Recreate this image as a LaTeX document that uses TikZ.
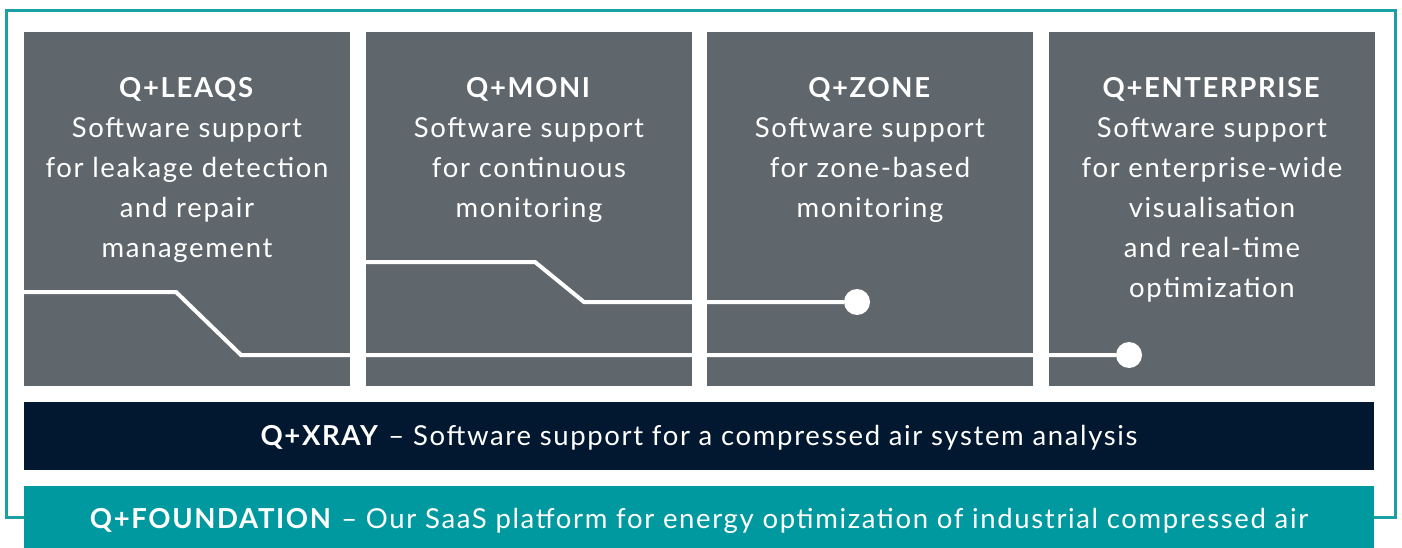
\documentclass[tikz,border=0pt]{standalone}
\usepackage{fontspec}
\setmainfont{Lato}[LetterSpace=6]
\usetikzlibrary{positioning}

\definecolor{slate}{RGB}{95,102,108}
\definecolor{navy}{RGB}{1,24,48}
\definecolor{teal}{RGB}{0,153,160}
\definecolor{frame}{RGB}{26,159,163}

\begin{document}
\begin{tikzpicture}[x=1pt,y=-1pt,
    modbox/.style={fill=slate, minimum width=326pt, minimum height=354pt, inner sep=0pt, outer sep=0pt},
    modtext/.style={anchor=north, align=center, text=white, inner sep=0pt, font=\fontsize{27.5}{40}\selectfont},
    bar/.style={minimum width=1350pt, inner sep=0pt, outer sep=0pt, text=white, font=\fontsize{27.5}{32}\selectfont},
    wire/.style={white, line width=4pt},
    dot/.style={circle, fill=white, minimum size=26pt, inner sep=0pt}]
    \useasboundingbox (0,0) rectangle (1402,548);
    % outer frame
    \draw[frame, line width=3pt] (24,517) -- (6.5,517) -- (6.5,11) -- (1395.5,11) -- (1395.5,517) -- (1374,517);
    % modules
    \node[modbox] (leaqs) at (187,209) {};
    \node[modbox] (moni) at (529,209) {};
    \node[modbox] (zone) at (870,209) {};
    \node[modbox] (enterprise) at (1212,209) {};
    \node[modtext, yshift=-45pt] (leaqstxt) at (leaqs.north) {\textbf{Q+LEAQS}\\Software support\\for leakage detection\\and repair\\management};
    \node[modtext, yshift=-45pt] (monitxt) at (moni.north) {\textbf{Q+MONI}\\Software support\\for continuous\\monitoring};
    \node[modtext, yshift=-45pt] (zonetxt) at (zone.north) {\textbf{Q+ZONE}\\Software support\\for zone-based\\monitoring};
    \node[modtext, yshift=-45pt] (enterprisetxt) at (enterprise.north) {\textbf{Q+ENTERPRISE}\\Software support\\for enterprise-wide\\visualisation\\and real-time\\optimization};
    % bars
    \node[bar, fill=navy, minimum height=68pt] (xray) at (699,436) {};
    \node[bar, fill=teal, minimum height=62pt] (foundation) at (699,517) {};
    \node[text=white, font=\fontsize{27.5}{32}\selectfont, yshift=-2pt] (xraytxt) at (xray) {\textbf{Q+XRAY} -- Software support for a compressed air system analysis};
    \node[text=white, font=\fontsize{27.5}{32}\selectfont, yshift=-4pt] (foundationtxt) at (foundation) {\textbf{Q+FOUNDATION} -- Our SaaS platform for energy optimization of industrial compressed air};
    % wires
    \node[dot] (dotzone) at (857,302) {};
    \node[dot] (dotent) at (1129,355) {};
    \coordinate (w1a) at (24,292);
    \coordinate (w1b) at (176,292);
    \coordinate (w1c) at (241,355);
    \coordinate (w2a) at (366,262);
    \coordinate (w2b) at (535,262);
    \coordinate (w2c) at (584,302);
    \draw[wire] (w1a) -- (w1b) -- (w1c) -- (dotent);
    \draw[wire] (w2a) -- (w2b) -- (w2c) -- (dotzone);
\end{tikzpicture}
\end{document}
